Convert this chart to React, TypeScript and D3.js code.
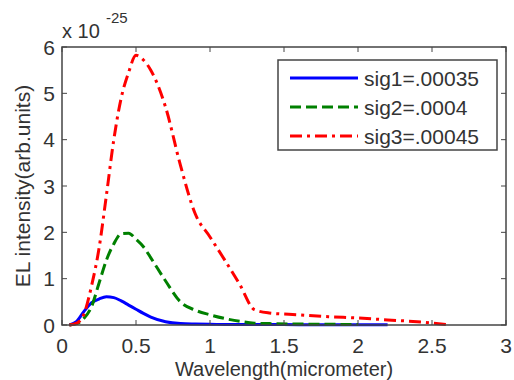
import React from "react";
import * as d3 from "d3";

const wavelength = [0.05, 0.1, 0.15, 0.2, 0.25, 0.3, 0.35, 0.4, 0.45, 0.5, 0.55, 0.6, 0.7, 0.8, 0.9, 1.0, 1.1, 1.2, 1.3, 1.4, 1.6, 1.8, 2.0, 2.2, 2.4, 2.6];
const sig1 = [0, 0.08, 0.3, 0.48, 0.56, 0.61, 0.59, 0.52, 0.43, 0.34, 0.25, 0.17, 0.07, 0.03, 0.02, 0.015, 0.012, 0.01, 0.01, 0.01, 0.008, 0.006, 0.005, 0.003, null, null];
const sig2 = [0, 0.03, 0.15, 0.4, 0.9, 1.4, 1.75, 1.97, 1.98, 1.85, 1.69, 1.45, 0.95, 0.5, 0.32, 0.22, 0.14, 0.08, 0.04, 0.03, 0.02, 0.015, 0.01, null, null, null];
const sig3 = [0, 0.04, 0.25, 0.85, 1.65, 2.8, 4.0, 4.9, 5.45, 5.82, 5.72, 5.5, 4.7, 3.45, 2.4, 1.9, 1.4, 0.88, 0.33, 0.26, 0.22, 0.18, 0.15, 0.11, 0.07, 0.01];
const seriesNames = ["sig1=.00035", "sig2=.0004", "sig3=.00045"];
const xTicks = [0, 0.5, 1, 1.5, 2, 2.5, 3];
const yTicks = [0, 1, 2, 3, 4, 5, 6];

const W = 514, H = 380;
const L = 62, R = 506, T = 47, B = 325;
const font = "Liberation Sans, Arial, sans-serif";
const axisColor = "#444";
const textColor = "#333";

export default function App() {
  const x = d3.scaleLinear().domain([0, 3]).range([L, R]);
  const y = d3.scaleLinear().domain([0, 6]).range([B, T]);
  const line = d3
    .line<number | null>()
    .defined((d) => d !== null)
    .x((_, i) => x(wavelength[i]))
    .y((d) => y(d as number))
    .curve(d3.curveMonotoneX);

  const styles = [
    { color: "#0000ff", dash: "none" },
    { color: "#008000", dash: "11,5" },
    { color: "#ff0000", dash: "12,5,3,5" },
  ];
  const data = [sig1, sig2, sig3];

  const legX = 278, legY = 60, legW = 219, legH = 90;
  const tick = 5;

  return (
    <svg width={W} height={H} style={{ position: "absolute", left: 0, top: 0, background: "#fff" }}>
      <rect x={0} y={0} width={W} height={H} fill="#fff" />
      {data.map((d, i) => (
        <path key={i} d={line(d) || ""} fill="none" stroke={styles[i].color} strokeWidth={3} strokeDasharray={styles[i].dash} />
      ))}
      <rect x={L} y={T} width={R - L} height={B - T} fill="none" stroke={axisColor} strokeWidth={1.5} />
      {xTicks.map((t) => (
        <g key={"x" + t}>
          <line x1={x(t)} x2={x(t)} y1={B} y2={B - tick} stroke={axisColor} />
          <line x1={x(t)} x2={x(t)} y1={T} y2={T + tick} stroke={axisColor} />
          <text x={x(t)} y={353} textAnchor="middle" fontFamily={font} fontSize={21} fill={textColor}>{t}</text>
        </g>
      ))}
      {yTicks.map((t) => (
        <g key={"y" + t}>
          <line x1={L} x2={L + tick} y1={y(t)} y2={y(t)} stroke={axisColor} />
          <line x1={R} x2={R - tick} y1={y(t)} y2={y(t)} stroke={axisColor} />
          <text x={55} y={y(t) + 7.5} textAnchor="end" fontFamily={font} fontSize={21} fill={textColor}>{t}</text>
        </g>
      ))}
      <text x={62} y={38} fontFamily={font} fontSize={20} fill={textColor}>x 10</text>
      <text x={106} y={23} fontFamily={font} fontSize={15} fill={textColor}>-25</text>
      <text transform={`translate(30,${(T + B) / 2}) rotate(-90)`} textAnchor="middle" fontFamily={font} fontSize={21} fill={textColor}>EL intensity(arb.units)</text>
      <text x={(L + R) / 2} y={376} textAnchor="middle" fontFamily={font} fontSize={20} fill={textColor}>Wavelength(micrometer)</text>
      <rect x={legX} y={legY} width={legW} height={legH} fill="#fff" stroke={axisColor} strokeWidth={1.5} />
      {seriesNames.map((n, i) => {
        const ly = legY + 18 + i * 29;
        return (
          <g key={n}>
            <line x1={290} x2={358} y1={ly} y2={ly} stroke={styles[i].color} strokeWidth={3} strokeDasharray={styles[i].dash} />
            <text x={364} y={ly + 7.5} fontFamily={font} fontSize={21} fill={textColor}>{n}</text>
          </g>
        );
      })}
    </svg>
  );
}
